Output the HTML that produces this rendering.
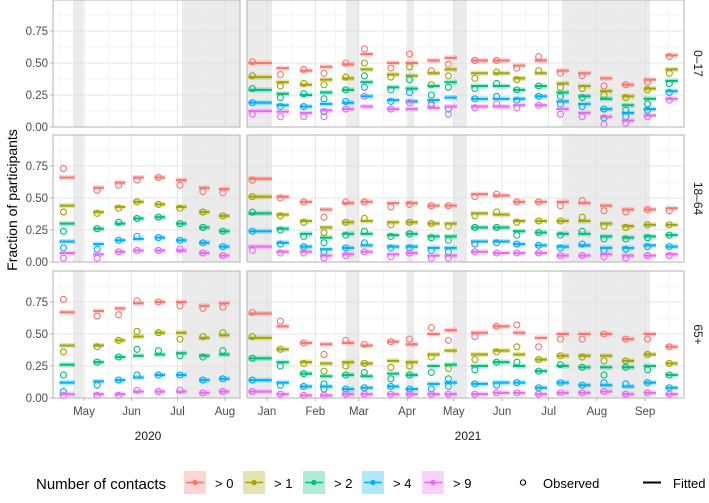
<!DOCTYPE html>
<html><head><meta charset="utf-8"><style>
html,body{margin:0;padding:0;background:#fff;}
svg{display:block;font-family:"Liberation Sans",sans-serif;}
</style></head><body>
<svg id="chart" width="709" height="503" viewBox="0 0 709 503" xmlns="http://www.w3.org/2000/svg">
<g id="plot"></g>
<text x="17" y="200" transform="rotate(-90 17 200)" text-anchor="middle" font-size="14" fill="#000">Fraction of participants</text>
<text x="148" y="440" text-anchor="middle" font-size="12" fill="#1a1a1a">2020</text>
<text x="468" y="440" text-anchor="middle" font-size="12" fill="#1a1a1a">2021</text>
<g id="legend">
<text x="36" y="489" font-size="15" fill="#000">Number of contacts</text>
</g>
</svg>
<script>
const seriesLabels = ["> 0","> 1","> 2","> 4","> 9"];
const seriesColors = ["#F8766D","#A3A500","#00BF7D","#00B0F6","#E76BF3"];
const rowLabels = ["0–17","18–64","65+"];
const yTicks = [0,0.25,0.5,0.75];
const yTickLabels = ["0.00","0.25","0.50","0.75"];
const leftMonths = [121,152,182,213];
const leftMonthLabels = ["May","Jun","Jul","Aug"];
const rightMonths = [366,397,425,456,486,517,547,578,609];
const rightMonthLabels = ["Jan","Feb","Mar","Apr","May","Jun","Jul","Aug","Sep"];
const leftBands = [[113.8,120.3],[185,223]];
const rightBands = [[353,369.2],[416.8,425.1],[456.6,460.5],[485.5,494.5],[555.6,612.2]];
const leftStart = [105,127,141,153,167,181,196,209];
const leftEnd = [115,134,148,160,174,188,203,216];
const rightStart = [354,372,387,400,414,426,443,455,469,480,497,511,524,538,552,566,580,594,608,622];
const rightEnd = [369,380,395,408,422,434,451,463,477,488,508,522,532,546,560,574,588,602,616,630];

// Row 0-17 (2021 only)
const r0RightObs = [
[.51,.41,.45,.42,.50,.61,.46,.57,.44,.49,.52,.52,.46,.55,.42,.40,.32,.33,.35,.55],
[.40,.32,.34,.33,.39,.50,.39,.47,.33,.40,.38,.43,.37,.44,.31,.30,.25,.23,.29,.42],
[.30,.23,.26,.22,.29,.40,.29,.37,.25,.31,.30,.34,.29,.32,.24,.23,.14,.13,.18,.34],
[.19,.16,.16,.12,.20,.31,.20,.27,.18,.14,.22,.24,.21,.24,.18,.16,.07,.08,.13,.27],
[.10,.08,.08,.08,.14,.24,.14,.19,.17,.10,.15,.18,.15,.17,.10,.08,.02,.03,.08,.21]];
const r0RightFit = [
[.50,.46,.44,.47,.49,.57,.50,.50,.52,.54,.52,.52,.48,.52,.44,.42,.38,.33,.37,.56],
[.39,.35,.33,.37,.38,.45,.41,.40,.42,.45,.42,.42,.38,.42,.34,.32,.28,.24,.30,.45],
[.29,.26,.25,.27,.29,.35,.31,.30,.32,.35,.32,.32,.29,.32,.27,.24,.22,.17,.22,.36],
[.19,.17,.16,.18,.19,.24,.21,.20,.21,.23,.22,.22,.22,.24,.20,.18,.14,.11,.14,.28],
[.125,.12,.11,.13,.14,.16,.14,.14,.15,.16,.16,.16,.17,.17,.14,.11,.08,.05,.09,.22]];
// Row 18-64
const r1LeftObs = [
[.73,.56,.60,.64,.66,.60,.55,.54],
[.39,.38,.42,.47,.45,.42,.39,.36],
[.24,.26,.31,.34,.35,.30,.27,.24],
[.11,.10,.17,.20,.19,.17,.15,.12],
[.03,.03,.08,.09,.09,.10,.07,.05]];
const r1LeftFit = [
[.66,.58,.62,.66,.66,.64,.58,.57],
[.44,.39,.43,.47,.45,.43,.39,.36],
[.30,.26,.30,.34,.35,.30,.27,.24],
[.16,.14,.17,.18,.19,.17,.15,.12],
[.07,.06,.08,.09,.09,.09,.07,.05]];
const r1RightObs = [
[.64,.50,.47,.35,.47,.47,.43,.45,.44,.44,.51,.53,.47,.47,.44,.48,.40,.39,.41,.40],
[.51,.36,.31,.23,.31,.34,.29,.31,.30,.28,.36,.39,.31,.32,.32,.35,.28,.27,.29,.29],
[.39,.25,.20,.15,.21,.24,.20,.22,.19,.17,.27,.27,.21,.23,.21,.24,.18,.18,.19,.21],
[.24,.14,.12,.08,.11,.15,.11,.11,.09,.08,.14,.15,.14,.13,.11,.14,.09,.10,.12,.12],
[.09,.07,.07,.03,.05,.08,.04,.07,.03,.03,.08,.07,.07,.07,.05,.05,.04,.03,.05,.05]];
const r1RightFit = [
[.65,.51,.47,.41,.46,.47,.46,.46,.44,.44,.53,.52,.47,.47,.47,.46,.44,.41,.41,.42],
[.51,.37,.32,.27,.31,.32,.31,.31,.30,.30,.38,.37,.32,.32,.32,.32,.30,.28,.29,.29],
[.38,.26,.22,.19,.22,.22,.21,.22,.20,.20,.27,.27,.24,.23,.22,.22,.20,.19,.20,.21],
[.24,.15,.12,.10,.11,.13,.12,.12,.11,.11,.16,.16,.14,.13,.12,.13,.11,.11,.13,.12],
[.12,.08,.08,.05,.06,.08,.06,.07,.05,.05,.08,.07,.07,.07,.05,.05,.06,.05,.05,.06]];
// Row 65+
const r2LeftObs = [
[.77,.64,.65,.76,.75,.72,.70,.71],
[.36,.40,.45,.52,.51,.46,.48,.51],
[.18,.28,.32,.38,.37,.33,.32,.37],
[.05,.10,.14,.18,.18,.18,.14,.15],
[.02,.02,.02,.06,.05,.06,.04,.05]];
const r2LeftFit = [
[.67,.68,.70,.74,.75,.75,.72,.74],
[.41,.41,.45,.48,.51,.51,.47,.49],
[.26,.28,.32,.33,.34,.35,.33,.34],
[.12,.13,.14,.16,.18,.18,.14,.15],
[.03,.03,.03,.05,.05,.05,.04,.05]];
const r2RightObs = [
[.67,.60,.43,.34,.45,.42,.44,.46,.55,.45,.48,.56,.57,.40,.46,.46,.50,.46,.46,.40],
[.48,.38,.27,.21,.25,.27,.24,.25,.32,.23,.30,.36,.40,.30,.33,.32,.29,.29,.34,.27],
[.31,.25,.19,.11,.18,.20,.15,.18,.20,.15,.22,.28,.28,.21,.26,.24,.18,.24,.22,.18],
[.14,.10,.09,.07,.07,.08,.09,.07,.07,.09,.11,.10,.12,.08,.12,.10,.12,.11,.12,.08],
[.05,.03,.02,.02,.03,.03,.03,.03,.03,.03,.03,.04,.04,.03,.04,.04,.05,.03,.04,.03]];
const r2RightFit = [
[.66,.56,.43,.42,.43,.41,.44,.42,.50,.53,.51,.56,.51,.47,.50,.50,.50,.46,.50,.40],
[.47,.38,.28,.27,.28,.27,.29,.28,.34,.37,.34,.37,.34,.30,.33,.33,.33,.29,.34,.27],
[.31,.28,.19,.17,.18,.17,.19,.18,.25,.26,.25,.28,.25,.21,.25,.24,.24,.24,.25,.18],
[.14,.12,.09,.09,.07,.08,.09,.07,.11,.12,.11,.12,.12,.08,.12,.10,.10,.09,.12,.08],
[.05,.03,.02,.02,.03,.03,.03,.03,.03,.03,.03,.04,.04,.03,.04,.04,.05,.03,.04,.03]];

const NS="http://www.w3.org/2000/svg";
function mk(tag, attrs, parent){const e=document.createElementNS(NS,tag);for(const k in attrs)e.setAttribute(k,attrs[k]);parent.appendChild(e);return e;}
const plot=document.getElementById('plot');
const rowTops=[0,135,271];
const panelH=127;
const panels=[
 {x0:53,x1:240,d0:100.8,d1:222.8,months:leftMonths,labels:leftMonthLabels,bands:leftBands,start:leftStart,end:leftEnd,key:'2020'},
 {x0:247,x1:684,d0:353.1,d1:634,months:rightMonths,labels:rightMonthLabels,bands:rightBands,start:rightStart,end:rightEnd,key:'2021'}];
const rowData=[[null,null,r0RightObs,r0RightFit],[r1LeftObs,r1LeftFit,r1RightObs,r1RightFit],[r2LeftObs,r2LeftFit,r2RightObs,r2RightFit]];

rowTops.forEach((top,ri)=>{
 const yS=v=>top+panelH-v*128;
 panels.forEach((p,pi)=>{
  const xS=d=>p.x0+(d-p.d0)*(p.x1-p.x0)/(p.d1-p.d0);
  const g=mk('g',{},plot);
  
  
  mk('rect',{x:p.x0,y:top,width:p.x1-p.x0,height:panelH,fill:'#fff'},g);
  p.bands.forEach(b=>{
   const r=mk('rect',{x:xS(b[0]),y:top,width:Math.min(xS(b[1]),p.x1)-xS(b[0]),height:panelH,fill:'#ebebeb'},g);
   
   
  });
  // minor y grid
  [0.125,0.375,0.625,0.875].forEach(v=>mk('line',{x1:p.x0,x2:p.x1,y1:yS(v),y2:yS(v),stroke:'#ececec','stroke-width':0.5},g));
  yTicks.forEach(v=>mk('line',{x1:p.x0,x2:p.x1,y1:yS(v),y2:yS(v),stroke:'#dedede','stroke-width':0.8},g));
  for(let i=0;i<p.months.length;i++){
   const mid=p.months[i]-15;
   if(xS(mid)>p.x0)mk('line',{x1:xS(mid),x2:xS(mid),y1:top,y2:top+panelH,stroke:'#ececec','stroke-width':0.5},g);
   mk('line',{x1:xS(p.months[i]),x2:xS(p.months[i]),y1:top,y2:top+panelH,stroke:'#dedede','stroke-width':0.8},g);
  }
  const last=p.months[p.months.length-1]+15;
  if(xS(last)<p.x1)mk('line',{x1:xS(last),x2:xS(last),y1:top,y2:top+panelH,stroke:'#ececec','stroke-width':0.5},g);
  const obs=rowData[ri][pi*2], fit=rowData[ri][pi*2+1];
  if(obs){
   for(let s=0;s<5;s++){
    const col=seriesColors[s];
    for(let w=0;w<p.start.length;w++){
     const xa=xS(p.start[w]), xb=xS(p.end[w]);
     const rb=mk('rect',{x:xa,y:yS(fit[s][w]+0.02),width:xb-xa,height:0.04*128,fill:col,opacity:0.3},g);
     
     
     const ln=mk('line',{x1:xa,x2:xb,y1:yS(fit[s][w]),y2:yS(fit[s][w]),stroke:col,'stroke-width':2},g);
     
     
     const c=mk('circle',{cx:xa+4,cy:yS(obs[s][w]),r:3,fill:'none',stroke:col,'stroke-width':1.1},g);
     
     
    }
   }
  }
  mk('rect',{x:p.x0,y:top,width:p.x1-p.x0,height:panelH,fill:'none',stroke:'#b3b3b3','stroke-width':1},g);
  if(pi===0){
   yTicks.forEach((v,i)=>{
    mk('line',{x1:p.x0-3,x2:p.x0,y1:yS(v),y2:yS(v),stroke:'#b3b3b3'},g);
    const t=mk('text',{x:p.x0-5,y:yS(v)+4,'text-anchor':'end','font-size':11.5,fill:'#4d4d4d'},g);
    t.textContent=yTickLabels[i];
    
    
   });
  }
  if(ri===2){
   p.months.forEach((m,i)=>{
    mk('line',{x1:xS(m),x2:xS(m),y1:top+panelH,y2:top+panelH+3,stroke:'#b3b3b3'},g);
    const t=mk('text',{x:xS(m),y:top+panelH+17,'text-anchor':'middle','font-size':11.5,fill:'#4d4d4d'},g);
    t.textContent=p.labels[i];
    
    
   });
  }
 });
 const st=mk('text',{x:694,y:top+panelH/2,transform:'rotate(90 694 '+(top+panelH/2)+')','text-anchor':'middle','font-size':12,fill:'#1a1a1a'},plot);
 st.textContent=rowLabels[ri];
 
 
});

const legend=document.getElementById('legend');
const keyX=[184,243,303,362,422];
seriesLabels.forEach((lab,i)=>{
 const g=mk('g',{},legend);
 
 
 mk('rect',{x:keyX[i],y:471,width:22,height:23,fill:seriesColors[i],opacity:0.3},g);
 mk('line',{x1:keyX[i]+2,x2:keyX[i]+20,y1:482.5,y2:482.5,stroke:seriesColors[i],'stroke-width':1.5},g);
 mk('circle',{cx:keyX[i]+11,cy:482.5,r:2.6,fill:seriesColors[i]},g);
 const t=mk('text',{x:keyX[i]+31,y:488,'font-size':13,fill:'#000'},g);
 t.textContent=lab;
});
const go=mk('g',{},legend);


mk('circle',{cx:523,cy:482.5,r:2.6,fill:'none',stroke:'#000','stroke-width':1},go);
const to=mk('text',{x:543,y:488,'font-size':13,fill:'#000'},go);to.textContent='Observed';
const gf=mk('g',{},legend);


mk('line',{x1:643,x2:661,y1:482.5,y2:482.5,stroke:'#000','stroke-width':2},gf);
const tf=mk('text',{x:673,y:488,'font-size':13,fill:'#000'},gf);tf.textContent='Fitted';
</script>
</body></html>
